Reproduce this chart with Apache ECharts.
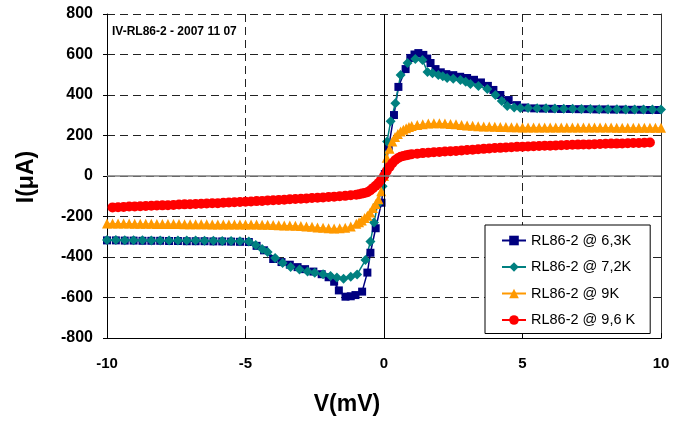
<!DOCTYPE html>
<html>
<head>
<meta charset="utf-8">
<script src="https://cdn.jsdelivr.net/npm/echarts@6/dist/echarts.min.js"></script>
<style>
  html, body { margin: 0; padding: 0; background: #fff; }
  #chart { width: 685px; height: 421px; }
</style>
</head>
<body>
<div id="chart"></div>
<script>
// tick values
var xTicks = [-10, -5, 0, 5, 10];
var yTicks = [-800, -600, -400, -200, 0, 200, 400, 600, 800];

var seriesNames = ['RL86-2 @ 6,3K', 'RL86-2 @ 7,2K', 'RL86-2 @ 9K', 'RL86-2 @ 9,6 K'];

// 6,3K : V (mV) / I (uA)
var v63 = [-10, -9.68, -9.36, -9.04, -8.72, -8.4, -8.08, -7.76, -7.44, -7.12, -6.8, -6.48, -6.16, -5.84, -5.52, -5.2, -4.88,
  -4.6, -4.33, -4.0, -3.7, -3.4, -3.12, -2.85, -2.55, -2.25, -2.0, -1.8, -1.63, -1.39, -1.2, -1.03, -0.79, -0.6, -0.49, -0.3, -0.09,
  0.03, 0.17, 0.36, 0.52, 0.78, 0.95, 1.1, 1.24, 1.42, 1.56, 1.68, 1.86, 2.05, 2.25, 2.5, 2.75, 3.0, 3.25, 3.5, 3.75, 3.95, 4.2, 4.5, 4.8, 5.1,
  5.42, 5.74, 6.06, 6.38, 6.7, 7.02, 7.34, 7.66, 7.98, 8.3, 8.62, 8.94, 9.26, 9.58, 9.9];
var i63 = [-318, -318, -319, -319, -320, -320, -320, -321, -321, -322, -322, -322, -323, -323, -324, -325, -326,
  -345, -367, -410, -425, -438, -450, -460, -472, -485, -500, -522, -565, -596, -594, -588, -571, -477, -379, -258, -132,
  10, 145, 301, 440, 528, 583, 600, 607, 598, 580, 558, 528, 512, 503, 498, 490, 484, 475, 462, 445, 425, 400, 375, 350, 338,
  334, 333, 332, 331, 331, 330, 330, 329, 329, 328, 328, 327, 327, 326, 326];

// 7,2K
var v72 = [-10, -9.68, -9.36, -9.04, -8.72, -8.4, -8.08, -7.76, -7.44, -7.12, -6.8, -6.48, -6.16, -5.84, -5.52, -5.2, -4.88,
  -4.63, -4.4, -4.2, -3.93, -3.66, -3.37, -3.05, -2.76, -2.5, -2.2, -1.93, -1.7, -1.46, -1.2, -0.97, -0.67, -0.49, -0.36, -0.23, -0.05,
  0.11, 0.24, 0.41, 0.6, 0.85, 1.13, 1.39, 1.57, 1.75, 1.96, 2.12, 2.28, 2.5, 2.76, 2.95, 3.12, 3.41, 3.73, 4.02, 4.25, 4.45, 4.7, 4.92, 5.2, 5.53,
  5.85, 6.17, 6.49, 6.81, 7.13, 7.45, 7.77, 8.09, 8.41, 8.73, 9.05, 9.37, 9.69, 10];
var i72 = [-316, -316, -317, -317, -317, -318, -318, -318, -319, -319, -319, -320, -320, -321, -321, -322, -323,
  -341, -360, -375, -405, -430, -449, -462, -472, -478, -485, -494, -501, -508, -498, -486, -415, -324, -230, -140, -50,
  170, 270, 359, 499, 558, 578, 573, 514, 507, 499, 492, 484, 480, 474, 465, 454, 444, 430, 400, 370, 346, 338, 336, 336, 335,
  334, 333, 332, 332, 331, 331, 330, 330, 330, 329, 329, 328, 328, 328];

// 9K
var v9 = [-10, -9.8, -9.6, -9.4, -9.2, -9.0, -8.8, -8.6, -8.4, -8.2, -8.0, -7.8, -7.6, -7.4, -7.2, -7.0, -6.8, -6.6, -6.4, -6.2,
  -6.0, -5.8, -5.6, -5.4, -5.2, -5.0, -4.8, -4.6, -4.4, -4.2, -4.0, -3.8, -3.6, -3.4, -3.2, -3.0, -2.8, -2.6, -2.4, -2.2,
  -2.0, -1.8, -1.6, -1.4, -1.2, -1.0, -0.9, -0.8, -0.7, -0.6, -0.5, -0.4, -0.3, -0.2, -0.1, 0, 0.1, 0.2, 0.3, 0.4,
  0.5, 0.6, 0.7, 0.8, 0.9, 1.0, 1.2, 1.4, 1.6, 1.8, 2.0, 2.2, 2.4, 2.6, 2.8, 3.0, 3.2, 3.4, 3.6, 3.8,
  4.0, 4.2, 4.4, 4.6, 4.8, 5.0, 5.2, 5.4, 5.6, 5.8, 6.0, 6.2, 6.4, 6.6, 6.8, 7.0, 7.2, 7.4, 7.6, 7.8,
  8.0, 8.2, 8.4, 8.6, 8.8, 9.0, 9.2, 9.4, 9.6, 9.8, 10];
var i9 = [-234, -234, -235, -235, -235, -236, -236, -236, -236, -237, -237, -237, -237, -237, -238, -238, -238, -238, -238, -239,
  -239, -239, -239, -239, -239, -239, -240, -240, -241, -241, -242, -243, -244, -245, -246, -247, -249, -251, -254, -256,
  -258, -259, -258, -255, -249, -236, -229, -220, -208, -196, -180, -158, -138, -115, -75, 0, 90, 135, 170, 192,
  208, 220, 228, 236, 242, 247, 252, 256, 259, 260, 260, 259, 257, 255, 252, 250, 248, 246, 245, 244,
  243, 242, 242, 241, 241, 240, 240, 240, 240, 240, 240, 240, 239, 239, 239, 239, 239, 239, 239, 239,
  239, 239, 238, 238, 238, 238, 238, 238, 238, 238, 238];

// 9,6K
var v96 = [-9.8, -9.6, -9.4, -9.2, -9.0, -8.8, -8.6, -8.4, -8.2, -8.0, -7.8, -7.6, -7.4, -7.2, -7.0, -6.8, -6.6, -6.4, -6.2, -6.0,
  -5.8, -5.6, -5.4, -5.2, -5.0, -4.8, -4.6, -4.4, -4.2, -4.0, -3.8, -3.6, -3.4, -3.2, -3.0, -2.8, -2.6, -2.4, -2.2, -2.0,
  -1.8, -1.6, -1.4, -1.2, -1.0, -0.9, -0.8, -0.7, -0.6, -0.5, -0.4, -0.3, -0.2, -0.1, 0, 0.1, 0.2, 0.3, 0.4, 0.5,
  0.6, 0.7, 0.8, 0.9, 1.0, 1.2, 1.4, 1.6, 1.8, 2.0, 2.2, 2.4, 2.6, 2.8, 3.0, 3.2, 3.4, 3.6, 3.8, 4.0,
  4.2, 4.4, 4.6, 4.8, 5.0, 5.2, 5.4, 5.6, 5.8, 6.0, 6.2, 6.4, 6.6, 6.8, 7.0, 7.2, 7.4, 7.6, 7.8, 8.0,
  8.2, 8.4, 8.6, 8.8, 9.0, 9.2, 9.4, 9.6];
var i96 = [-155, -154, -153, -151, -150, -149, -148, -147, -146, -145, -144, -143, -141, -140, -139, -138, -137, -136, -135, -134,
  -132, -131, -130, -128, -127, -126, -124, -123, -121, -120, -118, -117, -115, -114, -112, -111, -109, -107, -106, -104,
  -102, -100, -98, -95, -92, -90, -87, -84, -80, -72, -60, -48, -35, -18, 0, 25, 45, 63, 78, 88,
  95, 99, 102, 105, 107, 110, 113, 115, 117, 119, 121, 122, 124, 126, 128, 130, 132, 134, 136, 138,
  139, 141, 142, 144, 145, 146, 147, 148, 149, 150, 151, 152, 153, 154, 155, 156, 156, 157, 158, 159,
  160, 160, 161, 162, 163, 163, 164, 165];

function pairs(xs, ys) {
  return xs.map(function (x, k) { return [x, ys[k]]; });
}

var font = 'Liberation Sans, Arial, sans-serif';
var chart = echarts.init(document.getElementById('chart'));

chart.setOption({
  animation: false,
  backgroundColor: '#fff',
  grid: { left: 107, right: 24, top: 14, bottom: 83 },
  legend: {
    data: seriesNames,
    orient: 'vertical',
    left: 485,
    top: 225,
    padding: [8, 15, 6, 16],
    itemGap: 11.5,
    itemWidth: 24,
    itemHeight: 12,
    borderColor: '#000',
    borderWidth: 1,
    backgroundColor: '#fff',
    textStyle: { fontFamily: font, fontSize: 14.5, color: '#000' }
  },
  xAxis: {
    type: 'value',
    min: xTicks[0],
    max: xTicks[xTicks.length - 1],
    interval: 5,
    axisLine: { onZero: false, lineStyle: { color: '#000', width: 1 } },
    axisTick: { inside: true, length: 5, lineStyle: { color: '#000' } },
    axisLabel: { fontFamily: font, fontSize: 15, fontWeight: 'bold', color: '#000', margin: 18 },
    splitLine: { show: true, lineStyle: { color: '#222', type: [8, 5], width: 1 } }
  },
  yAxis: [{
    type: 'value',
    min: yTicks[0],
    max: yTicks[yTicks.length - 1],
    interval: 200,
    axisLine: { show: true, onZero: false, lineStyle: { color: '#000', width: 1 } },
    axisTick: { show: true, length: 4, lineStyle: { color: '#000' } },
    axisLabel: { fontFamily: font, fontSize: 16, fontWeight: 'bold', color: '#000', margin: 14 },
    splitLine: { show: true, lineStyle: { color: '#222', type: [8, 5], width: 1 } }
  }, {
    type: 'value',
    position: 'right',
    min: yTicks[0],
    max: yTicks[yTicks.length - 1],
    interval: 200,
    axisLine: { show: true, onZero: false, lineStyle: { color: '#333', width: 1 } },
    axisTick: { show: false },
    axisLabel: { show: false },
    splitLine: { show: false }
  }],
  graphic: [
    { type: 'text', left: 112, top: 26, style: { text: 'IV-RL86-2 - 2007 11 07', font: 'bold 12px ' + font, fill: '#000' } },
    { type: 'text', x: 347, y: 405, style: { text: 'V(mV)', font: 'bold 23px ' + font, fill: '#000', align: 'center', verticalAlign: 'middle' } },
    { type: 'text', x: 27, y: 177, rotation: Math.PI / 2, style: { text: 'I(μA)', font: 'bold 23px ' + font, fill: '#000', align: 'center', verticalAlign: 'middle' } }
  ],
  series: [
    {
      name: 'zero',
      type: 'line',
      data: [],
      z: 1,
      silent: true,
      markLine: {
        silent: true,
        symbol: 'none',
        label: { show: false },
        data: [
          { xAxis: 0, lineStyle: { color: '#000', type: 'solid', width: 1 } },
          { yAxis: 0, lineStyle: { color: '#808080', type: 'solid', width: 1.5 } }
        ]
      }
    },
    {
      name: seriesNames[0], type: 'line', data: pairs(v63, i63),
      symbol: 'rect', symbolSize: 8, color: '#000080',
      lineStyle: { width: 1.5, color: '#000080' }
    },
    {
      name: seriesNames[1], type: 'line', data: pairs(v72, i72),
      symbol: 'diamond', symbolSize: 10, color: '#008080',
      lineStyle: { width: 1.5, color: '#008080' }
    },
    {
      name: seriesNames[2], type: 'line', data: pairs(v9, i9),
      symbol: 'triangle', symbolSize: 10, color: '#FF9900',
      lineStyle: { width: 1, color: '#FF9900' }
    },
    {
      name: seriesNames[3], type: 'line', data: pairs(v96, i96),
      symbol: 'circle', symbolSize: 10, color: '#FF0000',
      lineStyle: { width: 1, color: '#FF0000' }
    }
  ]
});
</script>
</body>
</html>
